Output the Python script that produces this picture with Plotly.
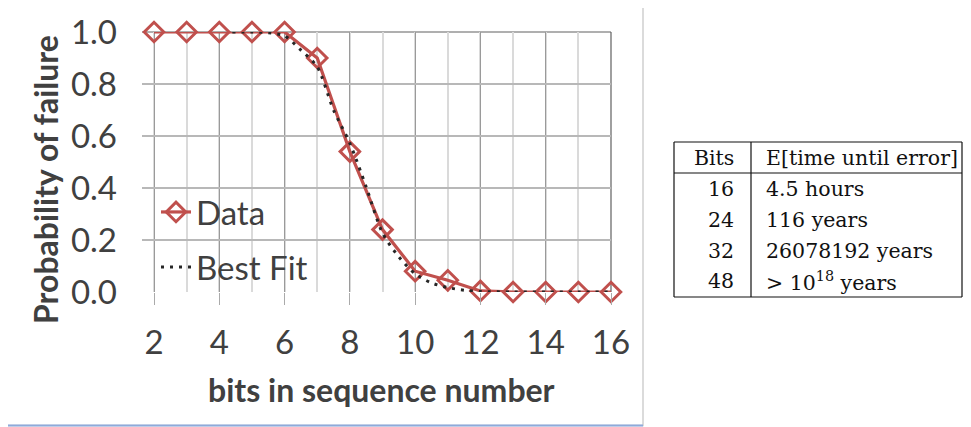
import plotly.graph_objects as go

# ---------------- data ----------------
bits_x = [2, 3, 4, 5, 6, 7, 8, 9, 10, 11, 12, 13, 14, 15, 16]
prob_fail = [1.0, 1.0, 1.0, 1.0, 1.0, 0.90, 0.54, 0.24, 0.08, 0.045, 0.004, 0.0, 0.0, 0.0, 0.0]

fit_x = [4.4, 5, 5.5, 6, 6.5, 7, 7.5, 8, 8.5, 9, 9.5, 10, 10.5, 11, 11.5, 12, 13, 14, 15, 16]
fit_y = [1.0, 1.0, 0.997, 0.985, 0.93, 0.866, 0.70, 0.572, 0.404, 0.227, 0.135, 0.07, 0.035, 0.017, 0.007, 0.002, 0.0, 0.0, 0.0, 0.0]

y_ticks = [0.0, 0.2, 0.4, 0.6, 0.8, 1.0]
x_ticks = [2, 4, 6, 8, 10, 12, 14, 16]

table_header = ["Bits", "E[time until error]"]
table_bits = ["16", "24", "32", "48"]
table_times = ["4.5 hours", "116 years", "26078192 years", "&gt; 10<sup>18</sup> years"]

# ---------------- layout geometry (screen pixels) ----------------
W, H = 971, 427
OFF = 8  # page body margin shifts the figure by 8px
L, R, T, B = 142, 611, 32, 292
X_MIN = 1.632


def px(xp):
    return (xp - L) / (R - L)


def py(yp):
    return (B - yp) / (B - T)


RED = "#c0504d"
TXT = "#404040"
FONT = "Lato"

fig = go.Figure()
fig.add_trace(go.Scatter(
    x=bits_x, y=prob_fail, mode="lines+markers", name="Data",
    line=dict(color=RED, width=3.2),
    marker=dict(symbol="diamond-open", size=15, color=RED, line=dict(width=3, color=RED)),
    legend="legend", cliponaxis=False,
))
fig.add_trace(go.Scatter(
    x=fit_x, y=fit_y, mode="lines", name="Best Fit",
    line=dict(color="#262626", width=3, dash="3px,6px", shape="spline", smoothing=0.8),
    legend="legend2", cliponaxis=False,
))

shapes = []
# chart box
shapes.append(dict(type="rect", xref="paper", yref="paper",
                   x0=px(7), x1=px(643), y0=py(425.5), y1=py(2),
                   line=dict(color="#d0d0d0", width=1.5), layer="below"))
shapes.append(dict(type="line", xref="paper", yref="paper",
                   x0=px(7), x1=px(643), y0=py(425.5), y1=py(425.5),
                   line=dict(color="#8eaadb", width=2)))
# darker top / right edges of plot area
shapes.append(dict(type="line", xref="paper", yref="paper", x0=0, x1=1, y0=1, y1=1,
                   line=dict(color="#606060", width=1.2), layer="below"))
shapes.append(dict(type="line", xref="paper", yref="paper", x0=1, x1=1, y0=0, y1=1,
                   line=dict(color="#606060", width=1.2), layer="below"))

# table lines
tl, tr, tt, tb, th, tv = 674, 962, 142, 297, 173, 751
for (x0, y0, x1, y1) in [(tl, tt, tr, tt), (tl, tb, tr, tb), (tl, tt, tl, tb), (tr, tt, tr, tb),
                         (tl, th, tr, th), (tv, tt, tv, tb)]:
    shapes.append(dict(type="line", xref="paper", yref="paper",
                       x0=px(x0), x1=px(x1), y0=py(y0), y1=py(y1),
                       line=dict(color="#111111", width=1.2)))

annotations = []
# axis titles
annotations.append(dict(text="<b>bits in sequence number</b>", xref="paper", yref="paper",
                        x=px(381), y=py(389), showarrow=False, xanchor="center", yanchor="middle",
                        font=dict(family=FONT, size=32, color=TXT)))
annotations.append(dict(text="<b>Probability of failure</b>", xref="paper", yref="paper",
                        x=px(45), y=py(180), showarrow=False, xanchor="center", yanchor="middle",
                        textangle=-90, font=dict(family=FONT, size=32, color=TXT)))

TFONT = dict(family="DejaVu Serif", size=20.5, color="#111111")
row_y = [189, 220, 251, 281]
annotations.append(dict(text=table_header[0], xref="paper", yref="paper", x=px(736), y=py(158),
                        xanchor="right", yanchor="middle", showarrow=False, font=TFONT))
annotations.append(dict(text=table_header[1], xref="paper", yref="paper", x=px(764), y=py(158),
                        xanchor="left", yanchor="middle", showarrow=False, font=TFONT))
for b, t, yy in zip(table_bits, table_times, row_y):
    annotations.append(dict(text=b, xref="paper", yref="paper", x=px(736), y=py(yy),
                            xanchor="right", yanchor="middle", showarrow=False, font=TFONT))
    annotations.append(dict(text=t, xref="paper", yref="paper", x=px(764), y=py(yy),
                            xanchor="left", yanchor="middle", showarrow=False, font=TFONT))

fig.update_layout(
    width=W, height=H,
    margin=dict(l=L - OFF, r=W - (R - OFF), t=T - OFF, b=H - (B - OFF), pad=0, autoexpand=False),
    paper_bgcolor="white", plot_bgcolor="white",
    font=dict(family=FONT, color=TXT),
    shapes=shapes, annotations=annotations,
    xaxis=dict(
        range=[X_MIN, 16], automargin=False,
        tickmode="array", tickvals=x_ticks, ticktext=[str(v) for v in x_ticks],
        showgrid=True, gridcolor="#9a9a9a", gridwidth=1,
        minor=dict(dtick=1, tick0=2, showgrid=True, gridcolor="#dadada", gridwidth=1.5),
        ticks="outside", ticklen=12, tickcolor="#aaaaaa", tickwidth=1,
        tickfont=dict(family=FONT, size=33, color=TXT),
        showline=False, zeroline=False, ticklabelstandoff=9,
    ),
    yaxis=dict(
        range=[0, 1], automargin=False, tickmode="array", tickvals=y_ticks,
        ticktext=["%.1f" % v for v in y_ticks],
        showgrid=True, gridcolor="#b8b8b8", gridwidth=1.5,
        zeroline=False, showline=False, ticks="",
        tickfont=dict(family=FONT, size=33, color=TXT),
        ticklabelstandoff=24,
    ),
    legend=dict(x=px(156), y=py(184), xanchor="left", yanchor="top",
                bgcolor="rgba(0,0,0,0)", borderwidth=0,
                font=dict(family=FONT, size=33, color=TXT)),
    legend2=dict(x=px(156), y=py(239), xanchor="left", yanchor="top",
                 bgcolor="rgba(0,0,0,0)", borderwidth=0,
                 font=dict(family=FONT, size=33, color=TXT)),
    showlegend=True,
)

fig.write_html("out.html")
